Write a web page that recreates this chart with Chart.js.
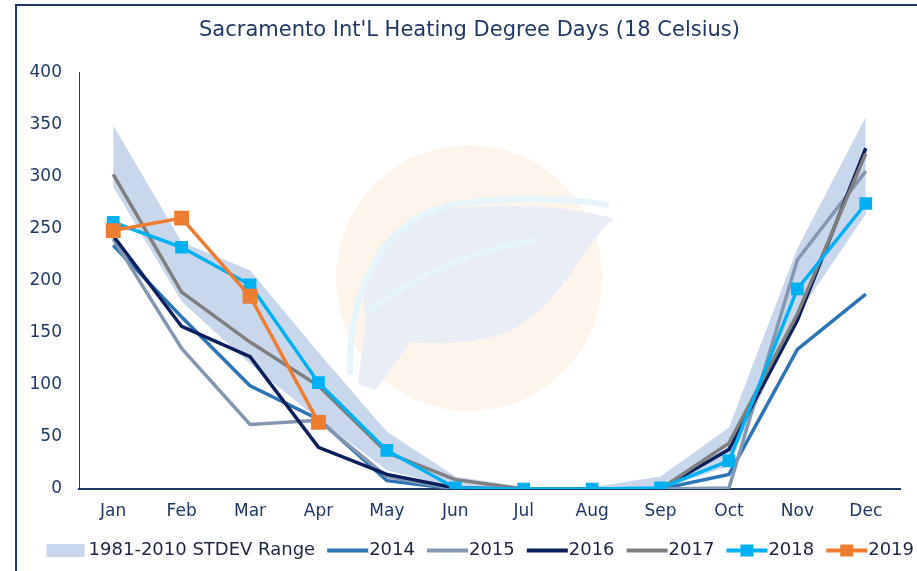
<!doctype html>
<html>

<head>
	<title>Sacramento Int'L Heating Degree Days</title>
	<style>
		body {
			margin: 0;
			background: #fff;
		}

		#wrap {
			position: relative;
			width: 917px;
			height: 571px;
			overflow: hidden;
		}

		#frame {
			position: absolute;
			left: 15px;
			top: 4px;
			width: 1200px;
			height: 900px;
			border-left: 2px solid #1F3864;
			border-top: 2px solid #1F3864;
			pointer-events: none;
		}
	</style>
	<script src="https://cdn.jsdelivr.net/npm/chart.js@4.4.0/dist/chart.umd.min.js"></script>
</head>

<body>
	<div id="wrap">
		<canvas id="hdd" width="917" height="571"></canvas>
		<div id="frame"></div>
	</div>
	<script>
		"use strict";
		const months = ["Jan", "Feb", "Mar", "Apr", "May", "Jun", "Jul", "Aug", "Sep", "Oct", "Nov", "Dec"];

		// 1981-2010 mean +/- one standard deviation
		const range_low = [290, 180, 120, 67, 18, 1, 0, 0, 0, 22, 167, 264];
		const range_high = [349, 237, 210, 131, 55, 12, 2, 2, 12, 59, 231, 357];

		const hdd_2014 = [234, 165, 99, 67, 8, 0, 0, 0, 0, 14, 134, 187];
		const hdd_2015 = [240, 135, 62, 66, 12, 0, 0, 0, 0, 1, 220, 305];
		const hdd_2016 = [243, 156, 127, 40, 14, 1, 0, 0, 0, 38, 162, 327];
		const hdd_2017 = [302, 189, 141, 99, 35, 9, 0, 0, 0, 44, 168, 322];
		const hdd_2018 = [256, 232, 196, 102, 37, 1, 0, 0, 1, 27, 192, 274];
		const hdd_2019 = [248, 260, 185, 64];

		const y_ticks = [0, 50, 100, 150, 200, 250, 300, 350, 400];

		const NAVY = "#1F3864";
		const BAND = "#C8D7EC";
		const FONT = "'DejaVu Sans', sans-serif";

		// small pictures for the legend keys
		function legend_icon(kind, color) {
			const c = document.createElement("canvas");
			c.width = 52;
			c.height = 16;
			const g = c.getContext("2d");
			if (kind === "band") {
				g.fillStyle = color;
				g.fillRect(10, 2, 38, 13);
			} else {
				g.strokeStyle = color;
				g.lineWidth = 4;
				g.beginPath();
				g.moveTo(10, 8.5);
				g.lineTo(51, 8.5);
				g.stroke();
				if (kind === "marker") {
					g.fillStyle = color;
					g.fillRect(24, 2.5, 13, 12);
				}
			}
			return c;
		}

		// faint logo behind the plot, and nudges for title / legend position
		const watermark = {
			id: "watermark",
			beforeDraw(chart) {
				chart.titleBlock.left += 11;
				chart.titleBlock.right += 11;
				chart.legend.left += 8;
				chart.legend.right += 8;

				const ctx = chart.ctx;
				ctx.save();
				ctx.fillStyle = "#FDF4EC";
				ctx.beginPath();
				ctx.arc(469, 278, 133, 0, Math.PI * 2);
				ctx.fill();

				ctx.fillStyle = "#E8EDF6";
				ctx.beginPath();
				ctx.moveTo(358, 384);
				ctx.lineTo(366, 318);
				ctx.bezierCurveTo(356, 262, 390, 214, 460, 208);
				ctx.bezierCurveTo(520, 203, 580, 208, 614, 219);
				ctx.bezierCurveTo(590, 236, 566, 290, 536, 313);
				ctx.bezierCurveTo(510, 338, 470, 346, 410, 342);
				ctx.lineTo(376, 390);
				ctx.closePath();
				ctx.fill();

				ctx.strokeStyle = "#E6F4FB";
				ctx.lineCap = "round";
				ctx.lineWidth = 6;
				ctx.beginPath();
				ctx.moveTo(350, 372);
				ctx.bezierCurveTo(348, 300, 378, 212, 465, 203);
				ctx.bezierCurveTo(520, 197, 575, 198, 606, 205);
				ctx.stroke();
				ctx.beginPath();
				ctx.moveTo(368, 312);
				ctx.bezierCurveTo(420, 272, 480, 248, 537, 240);
				ctx.stroke();
				ctx.restore();
			}
		};

		const line_set = (label, data, color, order, marker, size) => ({
			label: label,
			data: data,
			borderColor: color,
			backgroundColor: color,
			borderWidth: 3.5,
			pointStyle: "rect",
			pointRadius: marker ? size : 0,
			pointHoverRadius: marker ? size : 0,
			pointBorderWidth: 0,
			tension: 0,
			fill: false,
			order: order,
			icon: legend_icon(marker ? "marker" : "line", color)
		});

		const chart = new Chart(document.getElementById("hdd"), {
			type: "line",
			data: {
				labels: months,
				datasets: [{
					label: "range_low",
					data: range_low,
					borderWidth: 0,
					pointRadius: 0,
					fill: false,
					order: 7
				}, {
					label: "1981-2010 STDEV Range",
					data: range_high,
					borderWidth: 0,
					pointRadius: 0,
					backgroundColor: BAND,
					borderColor: BAND,
					fill: "-1",
					order: 6,
					icon: legend_icon("band", BAND)
				},
				line_set("2014", hdd_2014, "#2E75B6", 5, false),
				line_set("2015", hdd_2015, "#8497B0", 4, false),
				line_set("2016", hdd_2016, "#0B1F5C", 3, false),
				line_set("2017", hdd_2017, "#7F7F7F", 2, false),
				line_set("2018", hdd_2018, "#00B0F0", 1, true, 9),
				line_set("2019", hdd_2019, "#ED7D31", 0, true, 10.5)
				]
			},
			options: {
				responsive: false,
				animation: false,
				layout: {
					padding: { left: 0, right: 0, top: 0, bottom: 2 }
				},
				scales: {
					x: {
						offset: true,
						grid: { display: false, drawTicks: false, offset: true },
						border: { color: NAVY, width: 2 },
						ticks: {
							color: NAVY,
							padding: 12,
							font: { family: FONT, size: 17 }
						},
						afterFit: s => { s.height = 41; }
					},
					y: {
						min: 0,
						max: 400,
						grid: { display: false, drawTicks: false },
						border: { color: NAVY, width: 1 },
						afterBuildTicks: s => { s.ticks = y_ticks.map(v => ({ value: v })); },
						ticks: {
							color: NAVY,
							padding: 17,
							font: { family: FONT, size: 17 }
						},
						afterFit: s => { s.width = 79; }
					},
					y_pad: {
						position: "right",
						grid: { display: false },
						border: { display: false },
						ticks: { display: false },
						afterFit: s => { s.width = 17; }
					}
				},
				plugins: {
					filler: { drawTime: "beforeDatasetsDraw" },
					tooltip: { enabled: false },
					title: {
						display: true,
						text: "Sacramento Int'L Heating Degree Days (18 Celsius)",
						color: NAVY,
						font: { family: FONT, size: 21, weight: "normal" },
						padding: { top: 18, bottom: 29 }
					},
					legend: {
						position: "bottom",
						align: "end",
						labels: {
							usePointStyle: true,
							pointStyleWidth: 34,
							padding: 11,
							color: "#1C2541",
							font: { family: FONT, size: 18 },
							filter: item => item.datasetIndex !== 0,
							sort: (a, b) => a.datasetIndex - b.datasetIndex,
							generateLabels: ch => Chart.defaults.plugins.legend.labels.generateLabels(ch)
								.map(item => {
									item.pointStyle = ch.data.datasets[item.datasetIndex].icon;
									return item;
								})
						}
					}
				}
			},
			plugins: [watermark]
		});
	</script>
</body>

</html>
